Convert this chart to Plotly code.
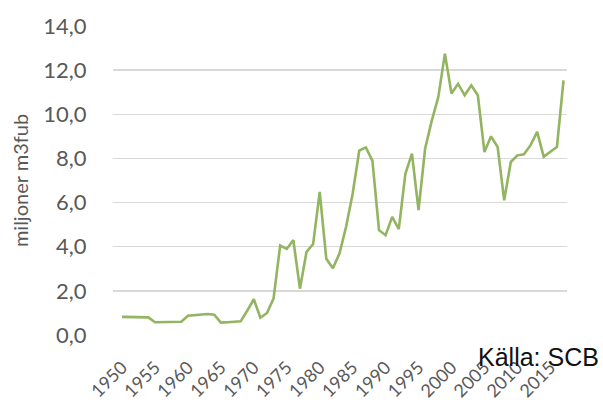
import plotly.graph_objects as go

years = list(range(1950, 2018))
values = [
    0.82, 0.82, 0.82, 0.82, 0.80, 0.58, 0.58, 0.58, 0.60, 0.60,
    0.87, 0.90, 0.92, 0.95, 0.92, 0.56, 0.58, 0.60, 0.62, 1.10,
    1.62, 0.78, 1.00, 1.66, 4.05, 3.90, 4.30, 2.10, 3.77, 4.12,
    6.48, 3.45, 3.02, 3.69, 4.90, 6.40, 8.35, 8.50, 7.90, 4.75,
    4.52, 5.35, 4.80, 7.30, 8.22, 5.66, 8.45, 9.70, 10.78, 12.75,
    10.94, 11.38, 10.86, 11.31, 10.86, 8.29, 9.00, 8.52, 6.10, 7.84,
    8.14, 8.19, 8.60, 9.20, 8.07, 8.30, 8.52, 11.54,
]
tick_years = list(range(1950, 2016, 5))
y_ticks = [0, 2, 4, 6, 8, 10, 12, 14]
y_labels = [f"{v:.1f}".replace(".", ",") for v in y_ticks]

fig = go.Figure()
fig.add_trace(go.Scatter(
    x=years, y=values, mode="lines",
    line=dict(color="#93b460", width=2.6),
    hoverinfo="skip", showlegend=False,
))

fig.update_layout(
    width=603, height=405,
    margin=dict(l=113, r=36, t=26, b=70),
    paper_bgcolor="white", plot_bgcolor="white",
    font=dict(family="Lato, Open Sans, sans-serif", color="#595959"),
    xaxis=dict(
        range=[1948.63, 2017.53], automargin=False,
        tickvals=tick_years, ticktext=[str(y) for y in tick_years],
        tickangle=-45, tickfont=dict(size=18, color="#595959"),
        showgrid=False, zeroline=False, showline=False,
        ticks="outside", ticklen=14, tickcolor="rgba(0,0,0,0)",
    ),
    yaxis=dict(
        range=[0, 14], automargin=False,
        tickvals=y_ticks, ticktext=y_labels,
        tickfont=dict(size=22, color="#595959"),
        showgrid=True, gridcolor="#d9d9d9", gridwidth=1.5,
        zeroline=False, showline=False,
        ticks="outside", ticklen=21, tickcolor="rgba(0,0,0,0)",
        title=dict(text="miljoner m3fub", font=dict(size=20, color="#595959"), standoff=9),
    ),
)
fig.add_annotation(
    text="Källa: SCB", xref="paper", yref="paper", x=1.075, y=-0.071,
    xanchor="right", yanchor="middle", showarrow=False,
    font=dict(family="Liberation Sans, Arial, sans-serif", size=25, color="#111111"),
)

fig.write_html(
    "out.html",
    config={"displayModeBar": False, "staticPlot": True},
    post_script="document.body.style.margin='0';document.body.style.padding='0';",
)
